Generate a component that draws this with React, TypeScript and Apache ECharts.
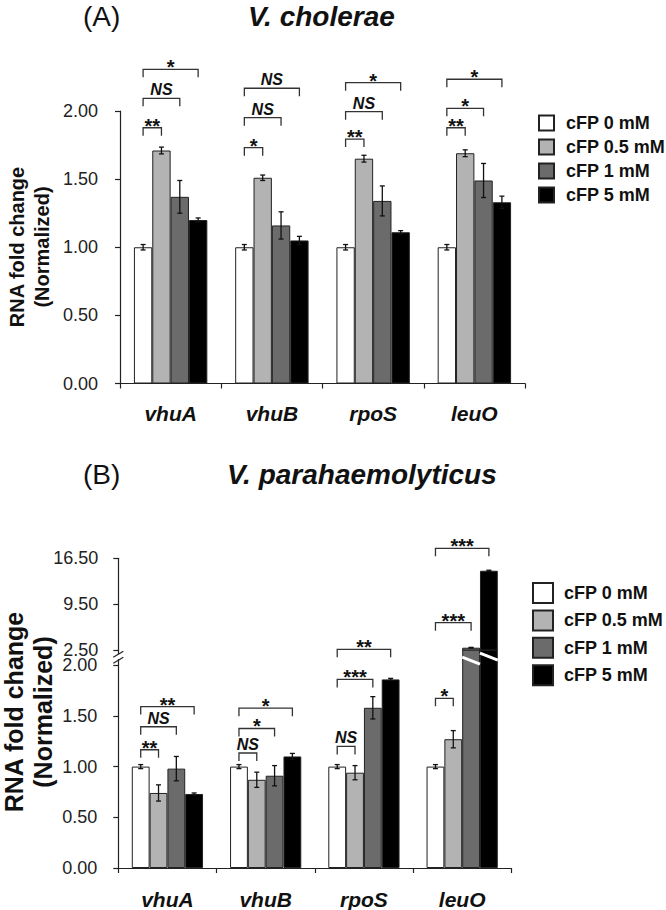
import React, { useEffect, useRef } from 'react';
import * as echarts from 'echarts';

const FONT = '"Liberation Sans", Arial, Helvetica, sans-serif';

const categories = ['vhuA', 'vhuB', 'rpoS', 'leuO'];
const seriesNames = ['cFP 0 mM', 'cFP 0.5 mM', 'cFP 1 mM', 'cFP 5 mM'];
const barColors = ['#ffffff', '#b3b3b3', '#6b6b6b', '#000000'];

// Panel A: V. cholerae (means and error half-widths)
const cholMean0 = [1.0, 1.0, 1.0, 1.0];
const cholMean05 = [1.71, 1.51, 1.65, 1.69];
const cholMean1 = [1.37, 1.16, 1.34, 1.49];
const cholMean5 = [1.2, 1.05, 1.11, 1.33];
const cholErr0 = [0.02, 0.02, 0.02, 0.02];
const cholErr05 = [0.025, 0.02, 0.025, 0.025];
const cholErr1 = [0.12, 0.1, 0.11, 0.125];
const cholErr5 = [0.015, 0.03, 0.012, 0.045];

// Panel B: V. parahaemolyticus
const paraMean0 = [1.0, 1.0, 1.0, 1.0];
const paraMean05 = [0.74, 0.87, 0.94, 1.27];
const paraMean1 = [0.98, 0.91, 1.58, 2.85];
const paraMean5 = [0.73, 1.1, 1.86, 14.6];
const paraErr0 = [0.02, 0.02, 0.02, 0.02];
const paraErr05 = [0.08, 0.075, 0.07, 0.085];
const paraErr1 = [0.12, 0.1, 0.11, 0.05];
const paraErr5 = [0.01, 0.03, 0.01, 0.08];

// tick labels
const ticksA = [0, 0.5, 1, 1.5, 2];
const ticksBLower = [0, 0.5, 1, 1.5, 2];
const ticksBUpper = [2.5, 9.5, 16.5];

// significance brackets: [category, compared bar, bracket level, label]
const sigA: [number, number, number, string][] = [
  [0, 1, 1.877, '**'], [0, 2, 2.093, 'NS'], [0, 3, 2.306, '*'],
  [1, 1, 1.731, '*'], [1, 2, 1.951, 'NS'], [1, 3, 2.167, 'NS'],
  [2, 1, 1.794, '**'], [2, 2, 1.995, 'NS'], [2, 3, 2.208, '*'],
  [3, 1, 1.877, '**'], [3, 2, 2.02, '*'], [3, 3, 2.233, '*'],
];
const sigBLower: [number, number, number, string][] = [
  [0, 1, 1.166, '**'], [0, 2, 1.393, 'NS'], [0, 3, 1.592, '**'],
  [1, 1, 1.134, 'NS'], [1, 2, 1.376, '*'], [1, 3, 1.576, '*'],
  [2, 1, 1.199, 'NS'], [2, 2, 1.86, '***'], [2, 3, 2.157, '**'],
  [3, 1, 1.673, '*'],
];
const sigBUpper: [number, number, number, string][] = [
  [3, 2, 6.67, '***'], [3, 3, 18.03, '***'],
];

const GAP = 0.275;
const BREAK_LOW = 2.0;
const BREAK_HIGH = 2.5;

function barCenter(api: any, cat: number, bi: number, v: number) {
  const catW = api.size([1, 0])[0];
  const groupW = catW * (1 - GAP);
  const bw = groupW / 4;
  return { cx: api.coord([cat, v])[0] - groupW / 2 + bw * (bi + 0.5), bw };
}

function errData(means: number[][], errs: number[][], keep: (v: number) => boolean) {
  const out: number[][] = [];
  means.forEach((m, bi) => m.forEach((v, ci) => { if (keep(v)) out.push([ci, v, errs[bi][ci], bi]); }));
  return out;
}

function errSeries(x: number, y: number, data: number[][]) {
  return {
    type: 'custom', xAxisIndex: x, yAxisIndex: y, z: 5, clip: false,
    data,
    renderItem: (params: any, api: any) => {
      const cat = api.value(0), v = api.value(1), e = api.value(2), bi = api.value(3);
      const { cx } = barCenter(api, cat, bi, v);
      const top = api.coord([cat, v + e])[1];
      const bot = api.coord([cat, v - e])[1];
      const st = { stroke: '#111', lineWidth: 1.3 };
      return {
        type: 'group', children: [
          { type: 'line', shape: { x1: cx, y1: top, x2: cx, y2: bot }, style: st },
          { type: 'line', shape: { x1: cx - 2.5, y1: top, x2: cx + 2.5, y2: top }, style: st },
          { type: 'line', shape: { x1: cx - 2.5, y1: bot, x2: cx + 2.5, y2: bot }, style: st },
        ],
      };
    },
  };
}

function sigSeries(x: number, y: number, sig: [number, number, number, string][]) {
  return {
    type: 'custom', xAxisIndex: x, yAxisIndex: y, z: 6, clip: false,
    data: sig.map((s) => [s[0], s[1], s[2]]),
    renderItem: (params: any, api: any) => {
      const cat = api.value(0), to = api.value(1), lvl = api.value(2);
      const label = sig[params.dataIndex][3];
      const a = barCenter(api, cat, 0, lvl).cx;
      const b = barCenter(api, cat, to, lvl).cx;
      const yy = api.coord([cat, lvl])[1];
      const st = { stroke: '#333', lineWidth: 1.3, fill: 'none' };
      const isNS = label === 'NS';
      return {
        type: 'group', children: [
          { type: 'polyline', shape: { points: [[a, yy + 8], [a, yy], [b, yy], [b, yy + 8]] }, style: st },
          {
            type: 'text', x: (a + b) / 2, y: isNS ? yy - 8.5 : yy - 2,
            style: {
              text: label, align: 'center', verticalAlign: 'middle',
              fontFamily: FONT, fontWeight: 'bold', fontStyle: isNS ? 'italic' : 'normal',
              fontSize: isNS ? 16 : 20, lineHeight: isNS ? 14 : 12, fill: '#111',
            },
          },
        ],
      };
    },
  };
}

function breakSeries() {
  return {
    type: 'custom', xAxisIndex: 2, yAxisIndex: 2, z: 7, clip: false,
    data: [[3, BREAK_LOW]],
    renderItem: (params: any, api: any) => {
      const cs = params.coordSys;
      const ref = api.coord([3, BREAK_LOW])[1];
      const d = barCenter(api, 3, 2, BREAK_LOW);
      const k = barCenter(api, 3, 3, BREAK_LOW);
      const white = { stroke: '#ffffff', lineWidth: 3 };
      const ax = cs.x;
      const dark = { stroke: '#222', lineWidth: 1.2 };
      return {
        type: 'group', children: [
          { type: 'line', shape: { x1: d.cx - d.bw / 2, y1: ref - 8, x2: d.cx + d.bw / 2, y2: ref - 1 }, style: white },
          { type: 'line', shape: { x1: k.cx - k.bw / 2, y1: ref - 12, x2: k.cx + k.bw / 2, y2: ref - 5 }, style: white },
          { type: 'rect', shape: { x: ax - 2, y: ref - 11, width: 4, height: 5 }, style: { fill: '#ffffff' } },
          { type: 'line', shape: { x1: ax - 5, y1: ref - 8, x2: ax + 5, y2: ref - 14 }, style: dark },
          { type: 'line', shape: { x1: ax - 5, y1: ref - 2, x2: ax + 5, y2: ref - 8 }, style: dark },
        ],
      };
    },
  };
}

const yLabel = (size: number, margin: number) => ({
  fontFamily: FONT, fontSize: size, color: '#222', margin,
  formatter: (v: number) => Number(v).toFixed(2),
});
const xLabel = (margin: number) => ({
  fontFamily: FONT, fontSize: 21, fontWeight: 'bold', fontStyle: 'italic', color: '#111', margin, interval: 0,
});
const axLine = { show: true, lineStyle: { color: '#222', width: 1.2 } };
const axTick = { show: true, length: 5, lineStyle: { color: '#222', width: 1.2 } };

export default function App() {
  const ref = useRef<HTMLDivElement>(null);
  useEffect(() => {
    if (!ref.current) return;
    const chart = echarts.init(ref.current, null, { renderer: 'svg' });
    const cholMeans = [cholMean0, cholMean05, cholMean1, cholMean5];
    const cholErrs = [cholErr0, cholErr05, cholErr1, cholErr5];
    const paraMeans = [paraMean0, paraMean05, paraMean1, paraMean5];
    const paraErrs = [paraErr0, paraErr05, paraErr1, paraErr5];

    const barBase = (i: number) => ({
      type: 'bar', name: seriesNames[i], barGap: '0%', barCategoryGap: GAP * 100 + '%',
      itemStyle: { color: barColors[i], borderColor: '#222', borderWidth: 1 },
    });

    const series: any[] = [];
    cholMeans.forEach((m, i) => series.push({ ...barBase(i), xAxisIndex: 0, yAxisIndex: 0, data: m }));
    paraMeans.forEach((m, i) => series.push({ ...barBase(i), xAxisIndex: 2, yAxisIndex: 2, data: m }));
    paraMeans.forEach((m, i) => series.push({
      ...barBase(i), xAxisIndex: 1, yAxisIndex: 1,
      data: m.map((v) => (v > BREAK_HIGH ? v : '-')),
    }));
    series.push(errSeries(0, 0, errData(cholMeans, cholErrs, () => true)));
    series.push(errSeries(2, 2, errData(paraMeans, paraErrs, (v) => v <= BREAK_LOW)));
    series.push(errSeries(1, 1, errData(paraMeans, paraErrs, (v) => v > BREAK_HIGH)));
    series.push(sigSeries(0, 0, sigA));
    series.push(sigSeries(2, 2, sigBLower));
    series.push(sigSeries(1, 1, sigBUpper));
    series.push(breakSeries());

    const legendText = (pad: number) => ({
      fontFamily: FONT, fontSize: 18, fontWeight: 'bold', color: '#111', padding: [0, 0, 0, pad],
    });

    chart.setOption({
      animation: false,
      backgroundColor: '#ffffff',
      grid: [
        { left: 120, top: 111, width: 405, height: 272.5 },
        { left: 118.3, top: 558.3, width: 393, height: 91.7 },
        { left: 118.3, top: 650, width: 393, height: 222.3 },
      ],
      xAxis: [
        { gridIndex: 0, type: 'category', data: categories, axisLine: axLine, axisTick: axTick, axisLabel: xLabel(19) },
        { gridIndex: 1, type: 'category', data: categories, show: false },
        { gridIndex: 2, type: 'category', data: categories, axisLine: axLine, axisTick: axTick, axisLabel: xLabel(21) },
      ],
      yAxis: [
        {
          gridIndex: 0, type: 'value', min: 0, max: 2, splitLine: { show: false },
          axisLine: axLine, axisTick: { ...axTick, customValues: ticksA },
          axisLabel: { ...yLabel(18, 22), customValues: ticksA },
        },
        {
          gridIndex: 1, type: 'value', min: 2.5, max: 16.5, splitLine: { show: false },
          axisLine: axLine, axisTick: { ...axTick, customValues: ticksBUpper },
          axisLabel: { ...yLabel(18, 20), customValues: ticksBUpper },
        },
        {
          gridIndex: 2, type: 'value', min: 0, max: 2.15, splitLine: { show: false },
          axisLine: axLine, axisTick: { ...axTick, customValues: ticksBLower },
          axisLabel: { ...yLabel(18, 21), customValues: ticksBLower },
        },
      ],
      legend: [
        {
          data: seriesNames, orient: 'vertical', left: 533, top: 109, itemWidth: 15, itemHeight: 15,
          itemGap: 6, icon: 'rect', selectedMode: false, textStyle: legendText(7),
        },
        {
          data: seriesNames, orient: 'vertical', left: 527, top: 577, itemWidth: 20, itemHeight: 20,
          itemGap: 5.4, icon: 'rect', selectedMode: false, textStyle: legendText(6),
        },
      ],
      graphic: [
        { type: 'text', x: 83, y: 16, style: { text: '(A)', fontFamily: FONT, fontSize: 28, fill: '#111', align: 'left', verticalAlign: 'middle' } },
        { type: 'text', x: 248, y: 16, style: { text: 'V. cholerae', fontFamily: FONT, fontSize: 28, fontWeight: 'bold', fontStyle: 'italic', fill: '#111', align: 'left', verticalAlign: 'middle' } },
        { type: 'text', x: 83, y: 474, style: { text: '(B)', fontFamily: FONT, fontSize: 28, fill: '#111', align: 'left', verticalAlign: 'middle' } },
        { type: 'text', x: 227, y: 474, style: { text: 'V. parahaemolyticus', fontFamily: FONT, fontSize: 28, fontWeight: 'bold', fontStyle: 'italic', fill: '#111', align: 'left', verticalAlign: 'middle' } },
        { type: 'text', x: 29.5, y: 247, rotation: Math.PI / 2, style: { text: 'RNA fold change\n(Normalized)', fontFamily: FONT, fontSize: 20, fontWeight: 'bold', lineHeight: 25, fill: '#111', align: 'center', verticalAlign: 'middle' } },
        { type: 'text', x: 28, y: 712, rotation: Math.PI / 2, style: { text: 'RNA fold change\n(Normalized)', fontFamily: FONT, fontSize: 25, fontWeight: 'bold', lineHeight: 29, fill: '#111', align: 'center', verticalAlign: 'middle' } },
      ],
      series,
    });
    return () => chart.dispose();
  }, []);
  return <div ref={ref} style={{ position: 'absolute', left: 0, top: 0, width: 666, height: 910, background: '#fff' }} />;
}
